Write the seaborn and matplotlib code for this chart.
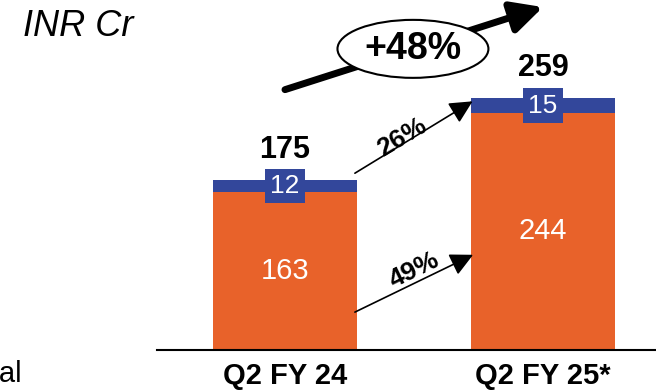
import matplotlib
matplotlib.use("Agg")
import matplotlib.pyplot as plt
import seaborn as sns
import pandas as pd
from matplotlib.patches import Ellipse

# ---- data ----
categories = ["Q2 FY 24", "Q2 FY 25*"]
orange_vals = [163, 244]
blue_vals = [12, 15]
totals = [175, 259]
growth_total = "+48%"
growth_blue = "26%"
growth_orange = "49%"
unit_label = "INR Cr"

ORANGE = "#E8622A"
BLUE = "#33479B"

sns.set_theme(style="white")
plt.rcParams["font.family"] = ["Liberation Sans", "DejaVu Sans"]

df = pd.DataFrame({"cat": categories, "orange": orange_vals,
                   "blue": blue_vals, "total": totals})

W, H = 656, 391
fig = plt.figure(figsize=(W / 100, H / 100), dpi=100)
ax = fig.add_axes([157 / W, 41 / H, 499 / W, 350 / H])

bw = 0.56
sns.barplot(data=df, x="cat", y="total", color=BLUE, width=bw, ax=ax,
            saturation=1, edgecolor="none")
sns.barplot(data=df, x="cat", y="orange", color=ORANGE, width=bw, ax=ax,
            saturation=1, edgecolor="none")

ax.set_xlim(-0.496, 1.438)
ax.set_ylim(0, 360.3)
ax.set_xlabel("")
ax.set_ylabel("")
ax.set_yticks([])
for s in ["top", "right", "left"]:
    ax.spines[s].set_visible(False)
ax.spines["bottom"].set_color("black")
ax.spines["bottom"].set_linewidth(1.5)
ax.tick_params(axis="x", length=0, pad=9)
for lab in ax.get_xticklabels():
    lab.set_fontweight("bold")
    lab.set_fontsize(21)
    lab.set_color("black")

for i in range(len(categories)):
    o, b, t = orange_vals[i], blue_vals[i], totals[i]
    ax.text(i, o / 2, str(o), ha="center", va="center", color="white",
            fontsize=21)
    ax.text(i, o + b / 2, str(b), ha="center", va="center", color="white",
            fontsize=19,
            bbox=dict(boxstyle="square,pad=0.2", fc=BLUE, ec="none"))
    ax.text(i, t + 31, str(t), ha="center", va="center", color="black",
            fontsize=22, fontweight="bold")

# growth arrows between segments
thin = dict(arrowstyle="-|>,head_length=0.7,head_width=0.35",
            mutation_scale=20, lw=1.2, color="black", shrinkA=0, shrinkB=0)
ax.annotate("", xy=(0.727, 256), xytext=(0.271, 182), arrowprops=thin,
            annotation_clip=False)
ax.text(0.453, 219, growth_blue, ha="center", va="center", rotation=31,
        fontsize=19, fontweight="bold", color="black")

ax.annotate("", xy=(0.729, 98), xytext=(0.271, 39), arrowprops=thin,
        annotation_clip=False)
ax.text(0.5, 82, growth_orange, ha="center", va="center", rotation=26,
        fontsize=19, fontweight="bold", color="black")

# overall growth arrow + ellipse
ax.annotate("", xy=(1.0, 353), xytext=(0.0, 268),
            arrowprops=dict(arrowstyle="-|>,head_length=0.75,head_width=0.38",
                            mutation_scale=25, lw=5, color="black",
                            shrinkA=0, shrinkB=0), annotation_clip=False)
ell = Ellipse((0.496, 310), width=0.585, height=59.7, fc="white",
              ec="black", lw=1.5, clip_on=False, zorder=5)
ax.add_patch(ell)
ax.text(0.496, 310, growth_total, ha="center", va="center", fontsize=27,
        fontweight="bold", color="black", zorder=6)

fig.text(23 / W, 1 - 26 / H, unit_label, ha="left", va="center",
         fontsize=26, style="italic", color="black")
fig.text(22 / W, 1 - 374 / H, "Total", ha="right", va="center",
         fontsize=21, color="black")

fig.savefig("out.png", dpi=100)
